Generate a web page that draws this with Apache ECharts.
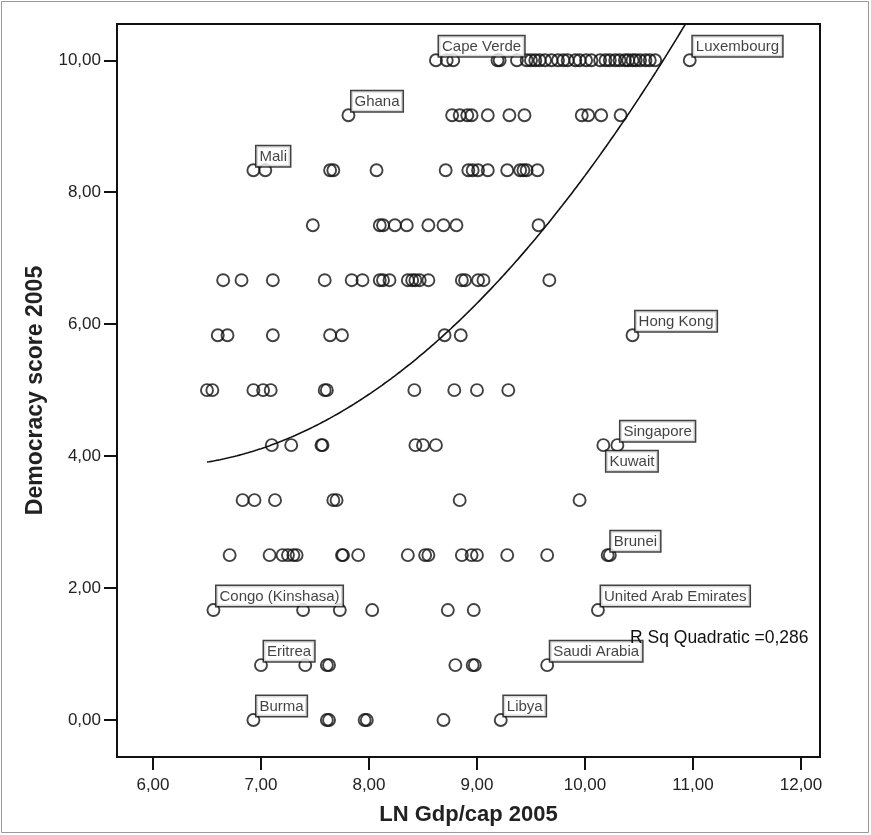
<!DOCTYPE html>
<html><head><meta charset="utf-8">
<script src="https://cdn.jsdelivr.net/npm/echarts@6/dist/echarts.min.js"></script>
<style>html,body{margin:0;padding:0;background:#fff}#c{width:871px;height:835px}</style>
</head><body><div id="c"></div>
<script>
// Democracy score levels (rows)
const scoreLevels = [0, 0.833, 1.667, 2.5, 3.333, 4.167, 5, 5.833, 6.667, 7.5, 8.333, 9.167, 10];
// LN Gdp/cap 2005 values for unlabeled countries, one array per democracy level
const gdpAt0    = [7.61, 7.63, 7.96, 7.98, 8.69];
const gdpAt0_83 = [7.41, 7.61, 7.63, 8.80, 8.96, 8.98];
const gdpAt1_67 = [7.39, 7.73, 8.03, 8.73, 8.97];
const gdpAt2_5  = [6.71, 7.08, 7.20, 7.25, 7.30, 7.33, 7.75, 7.76, 7.90, 8.36, 8.52, 8.55, 8.86, 8.95, 9.00, 9.28, 9.65, 10.23];
const gdpAt3_33 = [6.83, 6.94, 7.13, 7.67, 7.70, 8.84, 9.95];
const gdpAt4_17 = [7.10, 7.28, 7.56, 7.57, 8.43, 8.50, 8.62];
const gdpAt5    = [6.50, 6.55, 6.93, 7.02, 7.09, 7.59, 7.61, 8.42, 8.79, 9.00, 9.29];
const gdpAt5_83 = [6.60, 6.69, 7.11, 7.64, 7.75, 8.70, 8.85];
const gdpAt6_67 = [6.65, 6.82, 7.11, 7.59, 7.84, 7.94, 8.10, 8.13, 8.19, 8.36, 8.40, 8.43, 8.47, 8.55, 8.86, 8.89, 9.01, 9.06, 9.67];
const gdpAt7_5  = [7.48, 8.10, 8.13, 8.24, 8.35, 8.55, 8.69, 8.81, 9.57];
const gdpAt8_33 = [7.04, 7.64, 7.67, 8.07, 8.71, 8.92, 8.96, 9.01, 9.10, 9.28, 9.40, 9.43, 9.46, 9.56];
const gdpAt9_17 = [8.77, 8.84, 8.91, 8.95, 9.10, 9.30, 9.44, 9.97, 10.03, 10.15, 10.33];
const gdpAt10   = [8.72, 8.78, 9.19, 9.21, 9.37, 9.46, 9.50, 9.54, 9.58, 9.63, 9.69, 9.75, 9.80, 9.84, 9.91, 9.95, 10.01, 10.06, 10.14, 10.19, 10.23, 10.28, 10.32, 10.37, 10.40, 10.44, 10.47, 10.51, 10.56, 10.60, 10.65];
const gdpRows = [gdpAt0, gdpAt0_83, gdpAt1_67, gdpAt2_5, gdpAt3_33, gdpAt4_17, gdpAt5, gdpAt5_83, gdpAt6_67, gdpAt7_5, gdpAt8_33, gdpAt9_17, gdpAt10];

// Labeled countries
const labelNames = ['Cape Verde', 'Luxembourg', 'Ghana', 'Mali', 'Hong Kong', 'Singapore', 'Kuwait', 'Brunei', 'United Arab Emirates', 'Congo (Kinshasa)', 'Eritrea', 'Saudi Arabia', 'Burma', 'Libya'];
const labelGdp   = [8.62, 10.97, 7.81, 6.93, 10.44, 10.30, 10.17, 10.21, 10.12, 6.56, 7.00, 9.65, 6.93, 9.22];
const labelScore = [10, 10, 9.167, 8.333, 5.833, 4.167, 4.167, 2.5, 1.667, 1.667, 0.833, 0.833, 0, 0];
const labelBelow = ['Kuwait'];

// Quadratic fit: y = a + b*(x - x0) + c*(x - x0)^2
const fitX0 = 6.5, fitA = 3.91, fitB = 0.2685, fitC = 0.2777;
const fitRange = [6.5, 11.0];
const rSqText = 'R Sq Quadratic =0,286';

const xTicks = [6, 7, 8, 9, 10, 11, 12];
const yTicks = [0, 2, 4, 6, 8, 10];

const fmt = v => v.toFixed(2).replace('.', ',');

const plain = [];
gdpRows.forEach((row, i) => row.forEach(x => plain.push([x, scoreLevels[i]])));

const labeled = labelNames.map((n, i) => {
  const below = labelBelow.includes(n);
  return {
    name: n,
    value: [labelGdp[i], labelScore[i]],
    label: {
      show: true,
      formatter: n,
      position: below ? [10, 13] : [10, 3],
      align: 'left',
      verticalAlign: below ? 'top' : 'bottom',
      fontFamily: 'Liberation Sans, Arial, sans-serif',
      fontSize: 15,
      color: '#111',
      backgroundColor: '#fff',
      borderColor: '#111',
      borderWidth: 1.5,
      padding: [3, 3, 2, 3]
    }
  };
});

const curve = [];
for (let x = fitRange[0]; x <= fitRange[1] + 1e-9; x += 0.02) {
  const u = x - fitX0;
  curve.push([x, fitA + fitB * u + fitC * u * u]);
}

const chart = echarts.init(document.getElementById('c'), null, {renderer: 'canvas'});
const symStyle = {color: 'rgba(0,0,0,0)', borderColor: '#111', borderWidth: 1.9};
chart.setOption({
  animation: false,
  backgroundColor: '#fff',
  grid: {left: 117, right: 51, top: 24, bottom: 78, show: true, borderColor: '#111', borderWidth: 2, backgroundColor: 'transparent'},
  xAxis: {
    type: 'value', min: 5.667, max: 12.176,
    name: 'LN Gdp/cap 2005', nameLocation: 'middle', nameGap: 47,
    nameTextStyle: {fontFamily: 'Liberation Sans Narrow, Liberation Sans, Arial', fontWeight: 'bold', fontSize: 22, color: '#222'},
    axisLine: {show: true, onZero: false, lineStyle: {color: '#111', width: 2}},
    axisTick: {show: true, inside: false, length: 13, customValues: xTicks, lineStyle: {color: '#111', width: 2}},
    axisLabel: {customValues: xTicks, formatter: fmt, margin: 20, fontFamily: 'Liberation Sans, Arial', fontSize: 17, color: '#222'},
    splitLine: {show: false}
  },
  yAxis: {
    type: 'value', min: -0.56, max: 10.55,
    name: 'Democracy score 2005', nameLocation: 'middle', nameGap: 66,
    nameTextStyle: {fontFamily: 'Liberation Sans Narrow, Liberation Sans, Arial', fontWeight: 'bold', fontSize: 23, color: '#222'},
    axisLine: {show: true, onZero: false, lineStyle: {color: '#111', width: 2}},
    axisTick: {show: true, inside: false, length: 13, customValues: yTicks, lineStyle: {color: '#111', width: 2}},
    axisLabel: {customValues: yTicks, formatter: fmt, margin: 16, fontFamily: 'Liberation Sans, Arial', fontSize: 17, color: '#222'},
    splitLine: {show: false}
  },
  series: [
    {type: 'line', data: curve, showSymbol: false, clip: true, lineStyle: {color: '#111', width: 1.6}, z: 2, silent: true},
    {type: 'scatter', data: plain, symbol: 'circle', symbolSize: 12, itemStyle: symStyle, z: 3},
    {type: 'scatter', data: labeled, symbol: 'circle', symbolSize: 12, itemStyle: symStyle, z: 4}
  ],
  graphic: [
    {type: 'rect', shape: {x: 1.5, y: 1.5, width: 867, height: 831}, style: {fill: 'none', stroke: '#999', lineWidth: 1}, silent: true},
    {type: 'text', x: 630, y: 629, style: {text: rSqText, fontFamily: 'Liberation Sans, Arial', fontSize: 17.5, fill: '#111'}, z: 10}
  ]
});
</script></body></html>
